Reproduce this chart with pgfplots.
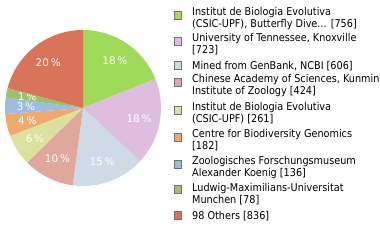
\documentclass[border=0pt]{standalone}
\usepackage{pgfplots}
\usepackage{pgfplotstable}
\pgfplotsset{compat=1.18}
\usepackage{fontspec}
\setmainfont{DejaVu Sans}
\newfontfamily\legfont{DejaVu Sans Condensed}
\definecolor{c1}{HTML}{A0DA5A}
\definecolor{c2}{HTML}{DEBDDE}
\definecolor{c3}{HTML}{CEDAE6}
\definecolor{c4}{HTML}{E0A89C}
\definecolor{c5}{HTML}{DCE29E}
\definecolor{c6}{HTML}{EEAA6E}
\definecolor{c7}{HTML}{9EBCE0}
\definecolor{c8}{HTML}{9CC070}
\definecolor{c9}{HTML}{D8745A}
\pgfplotstableread{
value color label sq
756 c1 18 15
723 c2 18 41.7
606 c3 15 65.7
424 c4 10 82.3
261 c5 6 110
182 c6 4 137.3
136 c7 3 164.3
78 c8 1 189.3
836 c9 20 215.7
}\pietable
\begin{document}
\begin{tikzpicture}
\useasboundingbox (0,0) rectangle (380bp,240bp);
\begin{axis}[
  at={(0,0)}, anchor=south west,
  scale only axis, width=380bp, height=240bp,
  xmin=0, xmax=380, ymin=0, ymax=240, y dir=reverse,
  enlargelimits=false, hide axis, clip=false]
\def\cum{0}
\pgfplotsforeachungrouped \i in {0,...,8}{%
  \pgfplotstablegetelem{\i}{value}\of\pietable \let\v\pgfplotsretval
  \pgfplotstablegetelem{\i}{color}\of\pietable \let\col\pgfplotsretval
  \pgfplotstablegetelem{\i}{label}\of\pietable \let\lab\pgfplotsretval
  \pgfplotstablegetelem{\i}{sq}\of\pietable \let\sq\pgfplotsretval
  \pgfmathsetmacro{\a}{90-(\cum/4002)*360}%
  \pgfmathsetmacro{\cumn}{\cum+\v}%
  \pgfmathsetmacro{\b}{90-(\cumn/4002)*360}%
  \pgfmathsetmacro{\m}{(\a+\b)/2}%
  \pgfmathsetmacro{\sqa}{\sq-4}%
  \pgfmathsetmacro{\sqb}{\sq+4}%
  \edef\temp{%
    \noexpand\fill[\col] (axis cs:83,108) -- ++(\a:78bp) arc[start angle=\a, end angle=\b, radius=78bp] -- cycle;
    \noexpand\path (axis cs:83,108) ++(\m:57bp) node[white, font=\noexpand\fontsize{10.5}{12}\noexpand\selectfont, inner sep=0pt] {\lab\noexpand\,\noexpand\%};
    \noexpand\draw[fill=\col, draw=black!55, line width=0.8bp] (axis cs:174.5,\sqa) rectangle (axis cs:181.5,\sqb);
  }%
  \temp
  \let\cum\cumn
}
\tikzset{lg/.style={anchor=base west, inner sep=0pt, font=\legfont\fontsize{10.8}{12}\selectfont}}
\node[lg] at (axis cs:192,15.3) {Institut de Biologia Evolutiva};
\node[lg] at (axis cs:192,27) {(CSIC-UPF), Butterfly Dive... [756]};
\node[lg] at (axis cs:192,41.5) {University of Tennessee, Knoxville};
\node[lg] at (axis cs:192,53.5) {[723]};
\node[lg] at (axis cs:192,69) {Mined from GenBank, NCBI [606]};
\node[lg] at (axis cs:192,82) {Chinese Academy of Sciences, Kunmin};
\node[lg] at (axis cs:192,94) {Institute of Zoology [424]};
\node[lg] at (axis cs:192,110.5) {Institut de Biologia Evolutiva};
\node[lg] at (axis cs:192,122.5) {(CSIC-UPF) [261]};
\node[lg] at (axis cs:192,137.5) {Centre for Biodiversity Genomics};
\node[lg] at (axis cs:192,149.5) {[182]};
\node[lg] at (axis cs:192,164.5) {Zoologisches Forschungsmuseum};
\node[lg] at (axis cs:192,176.5) {Alexander Koenig [136]};
\node[lg] at (axis cs:192,191.5) {Ludwig-Maximilians-Universitat};
\node[lg] at (axis cs:192,203.5) {Munchen [78]};
\node[lg] at (axis cs:192,219.5) {98 Others [836]};
\end{axis}
\end{tikzpicture}
\end{document}
